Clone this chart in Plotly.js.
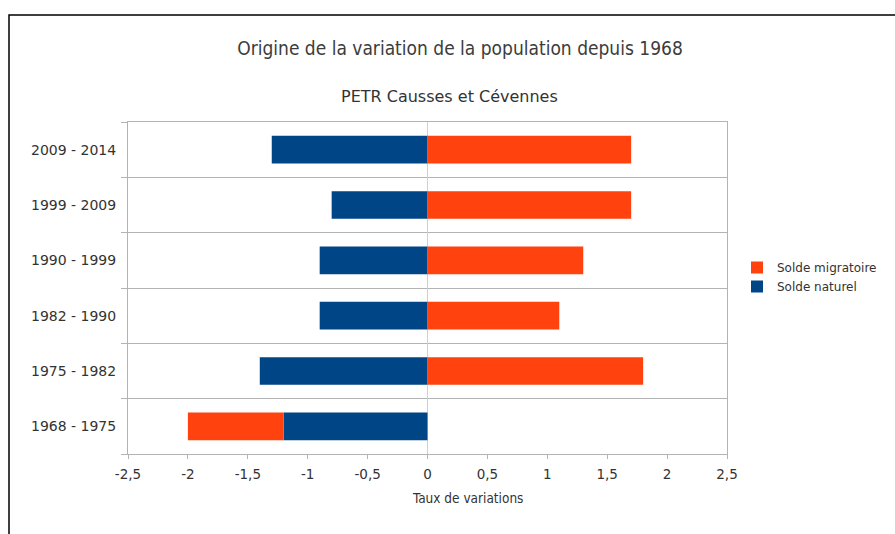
<!DOCTYPE html>
<html>
<head>
<meta charset="utf-8">
<script src="https://cdn.plot.ly/plotly-3.0.1.min.js"></script>
<style>html,body{margin:0;padding:0;background:#fff;}#chart{width:895px;height:534px;}</style>
</head>
<body>
<div id="chart"></div>
<script>
const periods = ['1968 - 1975', '1975 - 1982', '1982 - 1990', '1990 - 1999', '1999 - 2009', '2009 - 2014'];
const soldeNaturel = [-1.2, -1.4, -0.9, -0.9, -0.8, -1.3];
const soldeMigratoire = [-0.8, 1.8, 1.1, 1.3, 1.7, 1.7];
const xTickVals = [-2.5, -2, -1.5, -1, -0.5, 0, 0.5, 1, 1.5, 2, 2.5];
const xTickText = ['-2,5', '-2', '-1,5', '-1', '-0,5', '0', '0,5', '1', '1,5', '2', '2,5'];

const FONT = 'DejaVu Sans, sans-serif';
const FONT_COND = 'DejaVu Sans Condensed, Liberation Sans Narrow, DejaVu Sans, sans-serif';
const GRID = '#b3b3b3';

const traces = [
  {type: 'bar', orientation: 'h', name: 'Solde naturel', y: periods, x: soldeNaturel,
   marker: {color: '#004586'}, hoverinfo: 'none'},
  {type: 'bar', orientation: 'h', name: 'Solde migratoire', y: periods, x: soldeMigratoire,
   marker: {color: '#ff420e'}, hoverinfo: 'none'}
];

const layout = {
  width: 895, height: 534,
  paper_bgcolor: '#ffffff', plot_bgcolor: '#ffffff',
  margin: {l: 128, r: 168, t: 122, b: 80, autoexpand: false},
  barmode: 'relative',
  bargap: 0.5,
  font: {family: FONT, color: '#333333'},
  title: {text: 'Origine de la variation de la population depuis 1968',
          font: {family: FONT_COND, size: 19, color: '#3c3c3c'},
          xref: 'container', x: 460/895, xanchor: 'center',
          yref: 'container', y: 1 - 48/534, yanchor: 'middle'},
  xaxis: {range: [-2.5, 2.5], tickmode: 'array', tickvals: xTickVals, ticktext: xTickText,
          showgrid: false, zeroline: true, zerolinecolor: '#d0d0d0', zerolinewidth: 1,
          showline: true, linecolor: GRID, linewidth: 1, mirror: true,
          ticks: 'outside', ticklen: 4, tickcolor: GRID, ticklabelstandoff: 4,
          tickfont: {family: FONT, size: 13.5, color: '#333333'}, fixedrange: true},
  yaxis: {type: 'category', categoryorder: 'array', categoryarray: periods,
          range: [-0.5, 5.5], tickson: 'boundaries',
          showgrid: true, gridcolor: GRID, gridwidth: 1,
          showline: true, linecolor: GRID, linewidth: 1, mirror: true,
          ticks: 'outside', ticklen: 6, tickcolor: GRID, ticklabelstandoff: 8,
          tickfont: {family: FONT, size: 14, color: '#333333'}, fixedrange: true},
  legend: {traceorder: 'reversed', x: (737-128)/599, xanchor: 'left',
           y: (454-277)/332, yanchor: 'middle',
           font: {family: FONT, size: 12, color: '#333333'}, bgcolor: 'rgba(0,0,0,0)'},
  annotations: [
    {text: 'PETR Causses et Cévennes', xref: 'paper', yref: 'paper',
     x: (449-128)/599, y: (454-97)/332, xanchor: 'center', yanchor: 'middle',
     showarrow: false, font: {family: FONT, size: 16, color: '#333333'}},
    {text: 'Taux de variations', xref: 'paper', yref: 'paper',
     x: (467-128)/599, y: (454-498)/332, xanchor: 'center', yanchor: 'middle',
     showarrow: false, font: {family: FONT_COND, size: 13.5, color: '#333333'}}
  ],
  shapes: [
    {type: 'rect', xref: 'paper', yref: 'paper',
     x0: (9-128)/599, x1: (905-128)/599, y0: (454-545)/332, y1: (454-15)/332,
     line: {color: '#000000', width: 1.5}, fillcolor: 'rgba(0,0,0,0)', layer: 'below'}
  ]
};

Plotly.newPlot('chart', traces, layout, {displayModeBar: false, staticPlot: true});
</script>
</body>
</html>
